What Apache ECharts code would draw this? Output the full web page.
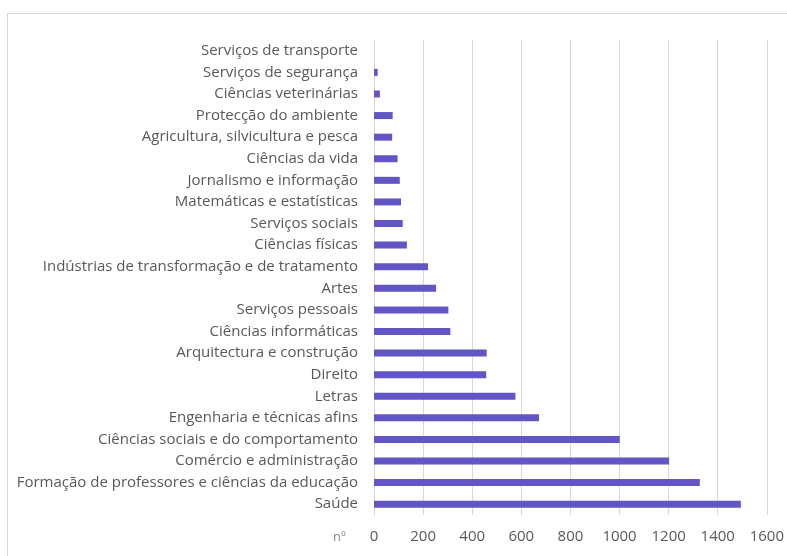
<!DOCTYPE html>
<html><head><meta charset="utf-8">
<script src="https://cdn.jsdelivr.net/npm/echarts@6/dist/echarts.min.js"></script>
<style>html,body{margin:0;padding:0;background:#fff}#c{width:787px;height:556px}</style>
</head><body><div id="c"></div>
<script>
const categories = [
  "Saúde",
  "Formação de professores e ciências da educação",
  "Comércio e administração",
  "Ciências sociais e do comportamento",
  "Engenharia e técnicas afins",
  "Letras",
  "Direito",
  "Arquitectura e construção",
  "Ciências informáticas",
  "Serviços pessoais",
  "Artes",
  "Indústrias de transformação e de tratamento",
  "Ciências físicas",
  "Serviços sociais",
  "Matemáticas e estatísticas",
  "Jornalismo e informação",
  "Ciências da vida",
  "Agricultura, silvicultura e pesca",
  "Protecção do ambiente",
  "Ciências veterinárias",
  "Serviços de segurança",
  "Serviços de transporte"
];
const values = [1494, 1327, 1202, 1001, 672, 576, 457, 459, 311, 303, 253, 220, 134, 117, 110, 105, 96, 74, 76, 24, 15, 0];
const axisMin = 0, axisMax = 1600, axisStep = 200;
const axisName = "nº";

const chart = echarts.init(document.getElementById('c'), null, {renderer:'canvas'});
const font = 'Open Sans';
chart.setOption({
  animation:false,
  grid:{left:374, right:20, top:40, bottom:41, containLabel:false},
  xAxis:{type:'value', min:axisMin, max:axisMax, interval:axisStep,
    axisLine:{show:false}, axisTick:{show:false},
    splitLine:{show:true, lineStyle:{color:'#d9d9d9', width:1}},
    axisLabel:{color:'#595959', fontFamily:font, fontSize:15, margin:14, formatter:v=>String(v)}},
  yAxis:{type:'category', data:categories,
    axisLine:{show:true, lineStyle:{color:'#d9d9d9'}}, axisTick:{show:false},
    axisLabel:{color:'#595959', fontFamily:font, fontSize:15, margin:16}},
  series:[{type:'bar', data:values, barWidth:7,
    itemStyle:{color:'#6256c6', borderWidth:0}}],
  graphic:[
    {type:'rect', shape:{x:7.5,y:13.5,width:800,height:560}, style:{fill:'none', stroke:'#d9d9d9', lineWidth:1}, silent:true},
    {type:'text', left:333, top:531, style:{text:axisName, fill:'#8c8c8c', font:'13px "Open Sans"'}}
  ]
});
</script></body></html>
